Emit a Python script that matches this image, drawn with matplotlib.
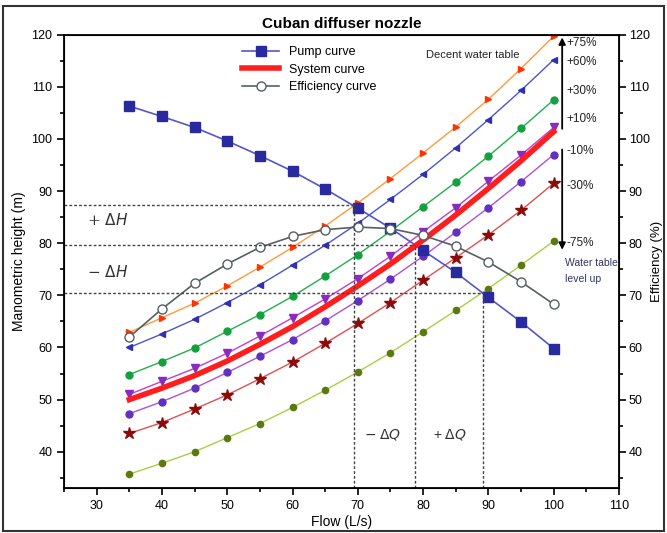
import matplotlib.pyplot as plt
import matplotlib.patches as mpatches
import numpy as np

plt.rcParams['font.family'] = ['Liberation Sans', 'DejaVu Sans']

# data
flow = [35, 40, 45, 50, 55, 60, 65, 70, 75, 80, 85, 90, 95, 100]

pump = [106.3, 104.3, 102.2, 99.6, 96.8, 93.8, 90.4, 86.7, 82.9, 78.6, 74.4, 69.6, 64.9, 59.8]
efficiency = [62.0, 67.4, 72.3, 76.0, 79.2, 81.3, 82.6, 83.1, 82.8, 81.5, 79.4, 76.4, 72.6, 68.3]
system = [50.0, 52.2, 54.6, 57.4, 60.6, 64.0, 67.8, 71.8, 76.0, 80.6, 85.4, 90.5, 95.8, 101.4]

plus75 = [62.9, 65.7, 68.5, 71.8, 75.4, 79.2, 83.3, 87.7, 92.4, 97.3, 102.3, 107.6, 113.5, 119.7]
plus60 = [60.0, 62.6, 65.4, 68.6, 72.0, 75.8, 79.6, 83.8, 88.4, 93.2, 98.3, 103.7, 109.3, 115.2]
plus30 = [54.8, 57.3, 59.9, 63.1, 66.3, 69.8, 73.7, 77.8, 82.3, 87.0, 91.7, 96.7, 102.0, 107.5]
plus10 = [51.0, 53.5, 56.0, 58.9, 62.2, 65.7, 69.3, 73.2, 77.5, 82.2, 86.8, 91.9, 96.9, 102.2]
minus10 = [47.3, 49.6, 52.2, 55.2, 58.3, 61.5, 65.1, 69.0, 73.1, 77.5, 82.1, 86.8, 91.8, 97.0]
minus30 = [43.5, 45.6, 48.2, 50.9, 54.0, 57.2, 60.8, 64.6, 68.6, 72.9, 77.2, 81.6, 86.3, 91.5]
minus75 = [35.7, 37.8, 40.0, 42.7, 45.4, 48.5, 51.8, 55.3, 59.0, 63.0, 67.1, 71.3, 75.8, 80.4]

# operating points (flow, head)
q_points = [69.4, 78.8, 89.2]
h_points = [87.3, 79.7, 70.4]

pct_labels = ['+75%', '+60%', '+30%', '+10%', '-10%', '-30%', '-75%']
pct_y = [118.4, 114.8, 109.2, 103.9, 97.6, 91.0, 80.0]


def main():
    fig = plt.figure(figsize=(6.67, 5.33), dpi=100)
    ax = fig.add_axes([0.096, 0.084, 0.832, 0.851])

    fig.patches.append(mpatches.Rectangle((0.004, 0.004), 0.992, 0.985, transform=fig.transFigure,
                                          fill=False, edgecolor='#333333', lw=1.5))

    # family of system curves
    ax.plot(flow, plus75, color='#FF9A3C', lw=1, marker='>', ms=5, mfc='#FF3300', mec='#FF3300')
    ax.plot(flow, plus60, color='#4A55D0', lw=1, marker='<', ms=5, mfc='#3030B0', mec='#3030B0')
    ax.plot(flow, plus30, color='#22B04A', lw=1, marker='o', ms=5, mfc='#15A040', mec='#15A040')
    ax.plot(flow, plus10, color='#C040D0', lw=1, marker='v', ms=6, mfc='#8A2BC0', mec='#8A2BC0')
    ax.plot(flow, minus10, color='#B050D8', lw=1, marker='o', ms=5, mfc='#6030C0', mec='#6030C0')
    ax.plot(flow, minus30, color='#E05050', lw=1, marker='*', ms=9, mfc='#8B0A0A', mec='#8B0A0A')
    ax.plot(flow, minus75, color='#A8D040', lw=1, marker='o', ms=4.5, mfc='#5A7A10', mec='#5A7A10')

    l1, = ax.plot(flow, pump, color='#5555CC', lw=1.2, marker='s', ms=6.5,
                  mfc='#2A2AA0', mec='#2A2AA0', label='Pump curve')
    l2, = ax.plot(flow, system, color='#FF1E1E', lw=4, label='System curve')
    l3, = ax.plot(flow, efficiency, color='#556060', lw=1.2, marker='o', ms=6.5,
                  mfc='white', mec='#556060', label='Efficiency curve')

    # guide lines
    dash = dict(color='#444444', lw=1, ls=(0, (2, 1.5)))
    for q, h in zip(q_points, h_points):
        ax.plot([25, q], [h, h], **dash)
        ax.plot([q, q], [33, h], **dash)

    ax.text(28.5, 83.5, r'+ $\Delta H$', fontsize=11, family='DejaVu Serif', style='italic', color='#333333')
    ax.text(28.5, 73.5, r'$-$ $\Delta H$', fontsize=11, family='DejaVu Serif', style='italic', color='#333333')
    ax.text(71, 42.5, r'$-$ $\Delta Q$', fontsize=10, color='#333333')
    ax.text(81.5, 42.5, r'+ $\Delta Q$', fontsize=10, color='#333333')

    # level annotations
    ax.annotate('', xy=(101.3, 120), xytext=(101.3, 101.4),
                arrowprops=dict(arrowstyle='-|>', color='black', lw=1.3))
    ax.annotate('', xy=(101.3, 78.2), xytext=(101.3, 98.5),
                arrowprops=dict(arrowstyle='-|>', color='black', lw=1.3))
    for lab, yy in zip(pct_labels, pct_y):
        ax.text(102.0, yy, lab, fontsize=8.5, va='center', color='#222222')
    ax.text(80.5, 116.0, 'Decent water table', fontsize=8, va='center', color='#222222')
    ax.text(101.8, 76.2, 'Water table', fontsize=7.5, va='center', color='#333366')
    ax.text(101.8, 73.1, 'level up', fontsize=7.5, va='center', color='#333366')

    ax.set_xlim(25, 110)
    ax.set_ylim(33, 120)
    ax.set_xticks(np.arange(30, 111, 10))
    ax.set_xticks(np.arange(25, 111, 5), minor=True)
    ax.set_yticks(np.arange(40, 121, 10))
    ax.set_yticks(np.arange(35, 121, 5), minor=True)
    ax.tick_params(which='major', length=5, width=1.2, labelsize=9)
    ax.tick_params(which='minor', length=3, width=1.2)
    for sp in ax.spines.values():
        sp.set_linewidth(1.3)

    ax.set_xlabel('Flow (L/s)', fontsize=10, labelpad=2)
    ax.set_ylabel('Manometric height (m)', fontsize=10, labelpad=4)
    ax.set_title('Cuban diffuser nozzle', fontsize=11, fontweight='bold', pad=5)

    ax2 = ax.twinx()
    ax2.set_ylim(33, 120)
    ax2.set_yticks(np.arange(40, 121, 10))
    ax2.set_yticks(np.arange(35, 121, 5), minor=True)
    ax2.tick_params(which='major', length=5, width=1.2, labelsize=9, pad=2)
    ax2.tick_params(which='minor', length=3, width=1.2)
    ax2.set_ylabel('Efficiency (%)', fontsize=9.5, labelpad=1)

    ax.legend(handles=[l1, l2, l3], loc='upper left', bbox_to_anchor=(0.3, 1.0),
              frameon=False, fontsize=9, handlelength=3, labelspacing=0.45, borderaxespad=0.5)

    fig.savefig('out.png', dpi=100)


if __name__ == '__main__':
    main()
